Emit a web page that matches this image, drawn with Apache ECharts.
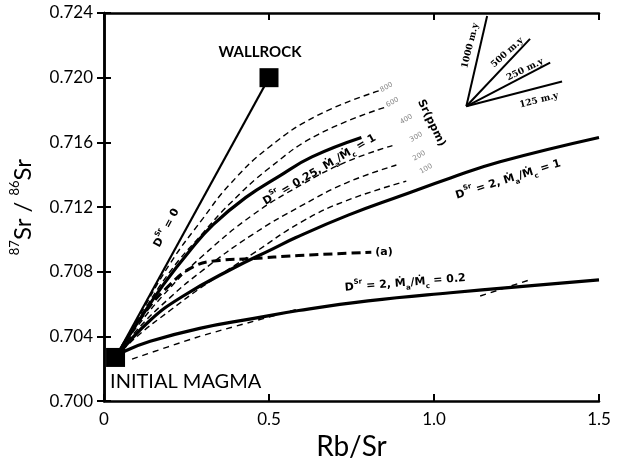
<!DOCTYPE html>
<html>
<head>
<meta charset="utf-8">
<script src="https://cdn.jsdelivr.net/npm/echarts@6/dist/echarts.min.js"></script>
<style>
  html, body { margin: 0; background: #fff; }
  #chart { width: 625px; height: 466px; }
</style>
</head>
<body>
<div id="chart"></div>
<script>
// tick labels
const xTickLabels = ["0", "0.5", "1.0", "1.5"];
const yTickLabels = ["0.700", "0.704", "0.708", "0.712", "0.716", "0.720", "0.724"];

// end members  [Rb/Sr, 87Sr/86Sr]
const initialMagma = [0.035, 0.7027];
const wallrock = [0.5, 0.72];

// model curves
const dSr0 = [initialMagma, wallrock];
const dSr025 = [[0.035, 0.7027], [0.1, 0.7048], [0.18, 0.7072], [0.26, 0.7093], [0.33, 0.7109], [0.43, 0.7126], [0.53, 0.7139], [0.63, 0.7151], [0.78, 0.7163]];
const dSr2m1 = [[0.035, 0.7027], [0.14, 0.705], [0.24, 0.7065], [0.39, 0.7082], [0.51, 0.7094], [0.58, 0.7101], [0.74, 0.7115], [0.9, 0.7127], [1.05, 0.7138], [1.2, 0.7148], [1.5, 0.7163]];
const dSr2m02 = [[0.035, 0.7027], [0.064, 0.7031], [0.14, 0.7037], [0.29, 0.7045], [0.45, 0.7051], [0.59, 0.7056], [0.8, 0.7062], [1.05, 0.7067], [1.5, 0.7075]];
const pathA = [[0.035, 0.7027], [0.118, 0.7053], [0.19, 0.707], [0.27, 0.7083], [0.35, 0.7087], [0.44, 0.7088], [0.59, 0.709], [0.81, 0.7092]];

// Sr (ppm) family, thin dashed
const sr800 = [[0.035, 0.7027], [0.1, 0.705], [0.2, 0.7085], [0.3, 0.7113], [0.381, 0.7134], [0.5, 0.7157], [0.65, 0.7177], [0.835, 0.7192]];
const sr600 = [[0.035, 0.7027], [0.1, 0.7049], [0.2, 0.708], [0.3, 0.7104], [0.381, 0.7122], [0.5, 0.7144], [0.65, 0.7165], [0.856, 0.7182]];
const sr300 = [[0.035, 0.7027], [0.1, 0.7046], [0.2, 0.707], [0.3, 0.709], [0.45, 0.7115], [0.6, 0.7134], [0.735, 0.7148], [0.874, 0.7158]];
const sr200 = [[0.035, 0.7027], [0.1, 0.7044], [0.2, 0.7064], [0.3, 0.7081], [0.45, 0.7103], [0.6, 0.7121], [0.735, 0.7135], [0.886, 0.7146]];
const sr100 = [[0.035, 0.7027], [0.1, 0.704], [0.2, 0.7056], [0.3, 0.7071], [0.45, 0.7091], [0.6, 0.7111], [0.735, 0.7124], [0.916, 0.7136]];
const lowDash1 = [[0.085, 0.7026], [0.29, 0.704], [0.59, 0.7057]];
const lowDash2 = [[1.14, 0.7065], [1.29, 0.7075]];

// time inset (m.y.)
const insetOrigin = [1.098, 0.71823];
const insetEnds = [[1.161, 0.72382], [1.291, 0.7224], [1.352, 0.72093], [1.388, 0.71976]];

const chart = echarts.init(document.getElementById("chart"));

const FONT = "Lato";
const BLACK = "#000";

function curve(data, width, type, extra) {
  return Object.assign({
    type: "line",
    data: data,
    symbol: "none",
    smooth: 0.45,
    silent: true,
    lineStyle: { color: BLACK, width: width, type: type || "solid", opacity: 1 },
    z: 3
  }, extra || {});
}

const axisBase = {
  axisLine: { show: true, lineStyle: { color: BLACK, width: 2.5 } },
  axisTick: { show: true, inside: true, length: 7, lineStyle: { color: BLACK, width: 2 } },
  splitLine: { show: false }
};

const option = {
  animation: false,
  backgroundColor: "#fff",
  grid: { left: 104, right: 26, top: 13, bottom: 62 },
  xAxis: [
    Object.assign({}, axisBase, {
      type: "value", min: 0, max: 1.5, interval: 0.5,
      name: "Rb/Sr", nameLocation: "middle", nameGap: 27,
      nameTextStyle: { fontFamily: FONT, fontSize: 28, color: BLACK },
      axisLabel: {
        margin: 10, fontFamily: FONT, fontSize: 17, color: BLACK,
        formatter: (v) => xTickLabels[Math.round(v / 0.5)]
      }
    }),
    Object.assign({}, axisBase, {
      type: "value", position: "top", min: 0, max: 1.5, interval: 0.5,
      axisLabel: { show: false }
    })
  ],
  yAxis: [
    Object.assign({}, axisBase, {
      type: "value", min: 0.7, max: 0.724, interval: 0.004,
      name: "{s|87}Sr / {s|86}Sr", nameLocation: "middle", nameGap: 58,
      nameTextStyle: {
        fontFamily: FONT, fontSize: 24, color: BLACK, lineHeight: 30,
        rich: { s: { fontFamily: FONT, fontSize: 13, color: BLACK, verticalAlign: "top", lineHeight: 30 } }
      },
      axisLabel: {
        margin: 11, fontFamily: FONT, fontSize: 17, color: BLACK,
        formatter: (v) => yTickLabels[Math.round((v - 0.7) / 0.004)]
      }
    }),
    Object.assign({}, axisBase, {
      type: "value", position: "right", min: 0.7, max: 0.724, interval: 0.004,
      axisLabel: { show: false }
    })
  ],
  series: [
    curve(dSr0, 2.2, "solid", { smooth: false }),
    curve(dSr025, 3.2),
    curve(dSr2m1, 3.2),
    curve(dSr2m02, 3.2),
    curve(pathA, 3, [9, 5], {
      endLabel: { show: true, formatter: "(a)", fontFamily: "DejaVu Sans", fontWeight: "bold", fontSize: 11, color: BLACK, distance: 4 }
    }),
    curve(sr800, 1.4, [6, 4]),
    curve(sr600, 1.4, [6, 4]),
    curve(sr300, 1.4, [6, 4]),
    curve(sr200, 1.4, [6, 4]),
    curve(sr100, 1.4, [6, 4]),
    curve(lowDash1, 1.4, [6, 5], { smooth: 0.2 }),
    curve(lowDash2, 1.4, [6, 5], { smooth: false })
  ].concat(insetEnds.map((e) => curve([insetOrigin, e], 2, "solid", { smooth: false }))).concat([
    {
      type: "scatter",
      symbol: "rect",
      symbolSize: 19,
      itemStyle: { color: BLACK, opacity: 1 },
      silent: true,
      z: 5,
      data: [
        {
          value: wallrock,
          label: { show: true, position: "top", distance: 9, offset: [-9, 0], formatter: "WALLROCK", fontFamily: FONT, fontWeight: "bold", fontSize: 15, color: BLACK }
        },
        {
          value: initialMagma,
          label: { show: true, position: [4, 24], align: "left", verticalAlign: "top", formatter: "INITIAL MAGMA", fontFamily: FONT, fontSize: 20, color: BLACK }
        }
      ]
    }
  ])
};

chart.setOption(option);

// rotated annotations placed in data coordinates
const labelRich = {
  n: { fontFamily: "DejaVu Sans", fontWeight: "bold", fontSize: 11, fill: BLACK, lineHeight: 17 },
  u: { fontFamily: "DejaVu Sans", fontWeight: "bold", fontSize: 7, fill: BLACK, verticalAlign: "top", lineHeight: 17 },
  d: { fontFamily: "DejaVu Sans", fontWeight: "bold", fontSize: 7, fill: BLACK, verticalAlign: "bottom", lineHeight: 17 },
  t: { fontFamily: "DejaVu Serif", fontWeight: "bold", fontSize: 9, fill: BLACK },
  g: { fontFamily: "DejaVu Sans", fontSize: 7, fill: "#888" }
};

const notes = [
  { at: [0.19, 0.7107], rot: 62, text: "{n|D}{u|Sr}{n| = 0}" },
  { at: [0.653, 0.7143], rot: 30.5, text: "{n|D}{u|Sr}{n| = 0.25, Ṁ}{d|a}{n|/Ṁ}{d|c}{n| = 1}" },
  { at: [1.225, 0.7137], rot: 17.4, text: "{n|D}{u|Sr}{n| = 2, Ṁ}{d|a}{n|/Ṁ}{d|c}{n| = 1}" },
  { at: [0.913, 0.7073], rot: 4.7, text: "{n|D}{u|Sr}{n| = 2, Ṁ}{d|a}{n|/Ṁ}{d|c}{n| = 0.2}" },
  { at: [0.992, 0.7172], rot: -64, text: "{n|Sr(ppm)}" },
  { at: [0.856, 0.7194], rot: 30, text: "{g|800}" },
  { at: [0.874, 0.71848], rot: 30, text: "{g|600}" },
  { at: [0.916, 0.71743], rot: 30, text: "{g|400}" },
  { at: [0.946, 0.71633], rot: 30, text: "{g|300}" },
  { at: [0.955, 0.71517], rot: 30, text: "{g|200}" },
  { at: [0.976, 0.71437], rot: 30, text: "{g|100}" },
  { at: [1.11, 0.72197], rot: 76, text: "{t|1000 m.y}" },
  { at: [1.222, 0.72155], rot: 42, text: "{t|500 m.y}" },
  { at: [1.276, 0.7205], rot: 26, text: "{t|250 m.y}" },
  { at: [1.318, 0.7186], rot: 14, text: "{t|125 m.y}" }
];

chart.setOption({
  graphic: notes.map((n) => {
    const p = chart.convertToPixel({ xAxisIndex: 0, yAxisIndex: 0 }, n.at);
    return {
      type: "text",
      x: p[0],
      y: p[1],
      rotation: (n.rot * Math.PI) / 180,
      silent: true,
      z: 10,
      style: { text: n.text, rich: labelRich, align: "center", verticalAlign: "middle", fill: BLACK }
    };
  })
});
</script>
</body>
</html>
